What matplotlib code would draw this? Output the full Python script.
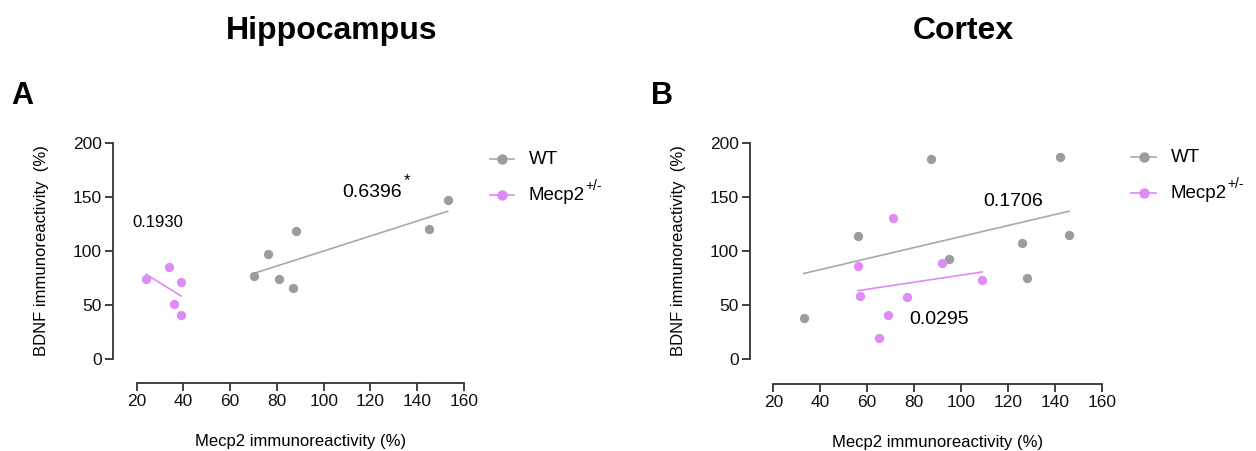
import numpy as np
import matplotlib
matplotlib.use("Agg")
import matplotlib.pyplot as plt

# ---- data ----
hip_wt_x = [70, 76, 81, 87, 88, 145, 153]
hip_wt_y = [77, 97, 74, 66, 119, 120, 147]
hip_mut_x = [24, 34, 39, 36, 39]
hip_mut_y = [74, 85, 71, 51, 41]

ctx_wt_x = [33, 56, 87, 95, 126, 128, 142, 146]
ctx_wt_y = [38, 114, 185, 93, 107, 75, 187, 115]
ctx_mut_x = [56, 57, 65, 69, 71, 77, 92, 109]
ctx_mut_y = [86, 58, 19, 41, 131, 57, 89, 73]

x_ticks = [20, 40, 60, 80, 100, 120, 140, 160]
y_ticks = [0, 50, 100, 150, 200]
titles = ["Hippocampus", "Cortex"]
panel_letters = ["A", "B"]
hip_labels = ["0.1930", "0.6396"]
ctx_labels = ["0.1706", "0.0295"]

WT_C = "#9c9ca0"
WT_LINE = "#a9a9a9"
MUT_C = "#dc8cf2"
SPINE = "#333333"

W, H = 1256, 451
plt.rcParams['font.family'] = ['Liberation Sans', 'DejaVu Sans']
fig = plt.figure(figsize=(W / 100, H / 100), dpi=100)

def px_axes(left, right, top, bottom):
    return fig.add_axes([left / W, 1 - bottom / H, (right - left) / W, (bottom - top) / H])

axA = px_axes(136.7, 464, 143.3, 358.7)
axB = px_axes(773.3, 1102, 143.3, 358.7)

def style(ax, left_off, bottom_off):
    ax.set_xlim(20, 160)
    ax.set_ylim(0, 200)
    for s in ["top", "right"]:
        ax.spines[s].set_visible(False)
    ax.spines["left"].set_position(("outward", left_off))
    ax.spines["bottom"].set_position(("outward", bottom_off))
    ax.spines["left"].set_bounds(0, 200)
    ax.spines["bottom"].set_bounds(20, 160)
    for s in ["left", "bottom"]:
        ax.spines[s].set_color(SPINE)
        ax.spines[s].set_linewidth(1.3)
    ax.set_xticks(x_ticks)
    ax.set_yticks(y_ticks)
    ax.tick_params(axis="both", length=6, width=1.3, color=SPINE, labelsize=12.5,
                   labelcolor="#111111", pad=2)
    for lab in ax.get_xticklabels() + ax.get_yticklabels():
        lab.set_family(['Liberation Sans Narrow', 'Liberation Sans'])
    ax.set_xlabel("Mecp2 immunoreactivity (%)", fontsize=12, labelpad=18)
    ax.set_ylabel("BDNF immunoreactivity  (%)", fontsize=12, labelpad=17)
    ax.patch.set_alpha(0)

def fitline(ax, x, y, color):
    x = np.asarray(x, float); y = np.asarray(y, float)
    m, b = np.polyfit(x, y, 1)
    xs = np.array([x.min(), x.max()])
    ax.plot(xs, m * xs + b, color=color, lw=1.2, zorder=2)

def panel(ax, wx, wy, mx, my):
    fitline(ax, wx, wy, WT_LINE)
    fitline(ax, mx, my, MUT_C)
    ax.scatter(wx, wy, s=45, color=WT_C, zorder=3, linewidths=0)
    ax.scatter(mx, my, s=45, color=MUT_C, zorder=3, linewidths=0)

style(axA, 17, 17.3)
style(axB, 16.8, 18.2)
panel(axA, hip_wt_x, hip_wt_y, hip_mut_x, hip_mut_y)
panel(axB, ctx_wt_x, ctx_wt_y, ctx_mut_x, ctx_mut_y)

axA.text(28.9, 126, hip_labels[0], fontsize=12, ha="center", va="center")
axA.text(120.8, 154, hip_labels[1], fontsize=14, ha="center", va="center")
axA.text(135.6, 165, "*", fontsize=12, ha="center", va="center")
axB.text(122.3, 146, ctx_labels[0], fontsize=14, ha="center", va="center")
axB.text(90.4, 36, ctx_labels[1], fontsize=14, ha="center", va="center")

# titles and panel letters
fig.text(331.5 / W, 1 - 31 / H, titles[0], fontsize=23, fontweight="bold", ha="center", va="center")
fig.text(963 / W, 1 - 31 / H, titles[1], fontsize=23, fontweight="bold", ha="center", va="center")
fig.text(22 / W, 1 - 96 / H, panel_letters[0], fontsize=22, fontweight="bold", ha="center", va="center")
fig.text(662 / W, 1 - 96 / H, panel_letters[1], fontsize=22, fontweight="bold", ha="center", va="center")

# legends
def legend(x0, x1, y_wt, y_mut, tx):
    for yy, col, lab in [(y_wt, WT_C, "WT"), (y_mut, MUT_C, "Mecp2")]:
        fig.add_artist(plt.Line2D([x0 / W, x1 / W], [1 - yy / H, 1 - yy / H],
                                  color=(WT_LINE if col == WT_C else col), lw=1.2,
                                  transform=fig.transFigure))
        fig.add_artist(plt.Line2D([(x0 + x1) / 2 / W], [1 - yy / H], marker="o", ms=6.5,
                                  color=col, mec=col, lw=0, transform=fig.transFigure))
        t = fig.text(tx / W, 1 - yy / H, lab, fontsize=13.5, ha="left", va="center")
        if lab == "Mecp2":
            plt.annotate("+/-", xy=(1.0, 0.62), xycoords=t, fontsize=10,
                         ha="left", va="bottom", annotation_clip=False)

legend(490, 514, 159, 195, 529)
legend(1131, 1156, 157, 193, 1171)

fig.savefig("out.png", dpi=100)
